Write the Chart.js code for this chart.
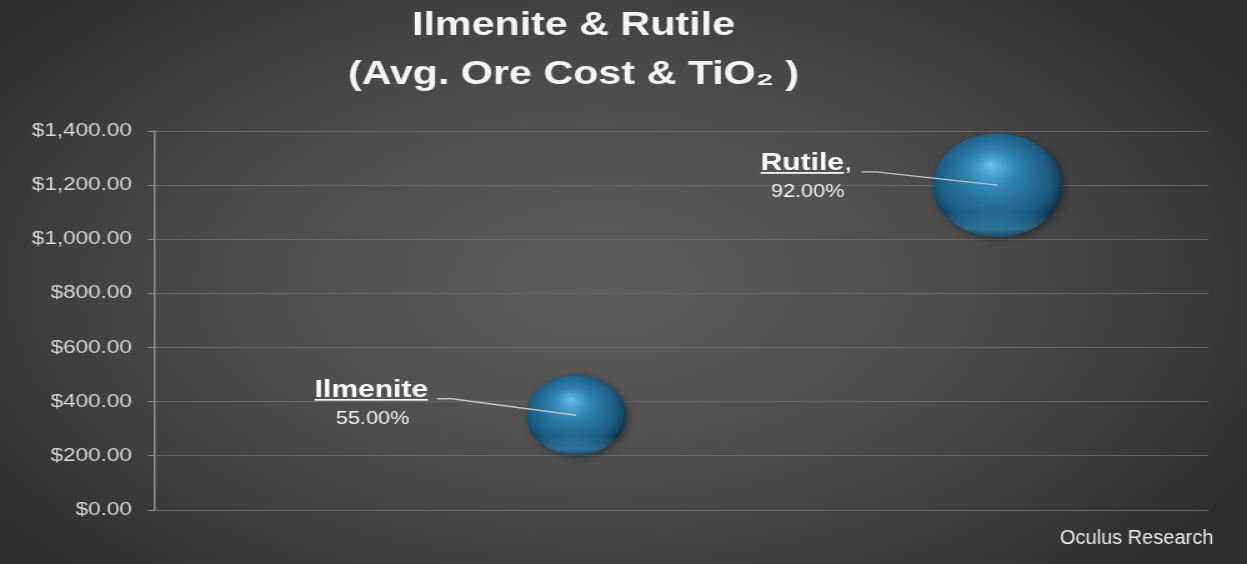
<!DOCTYPE html>
<html>
<head>
<meta charset="utf-8">
<title>Ilmenite &amp; Rutile</title>
<script src="https://cdn.jsdelivr.net/npm/chart.js@4.4.1/dist/chart.umd.min.js"></script>
<style>
  html, body {
    margin: 0;
    padding: 0;
    width: 1247px;
    height: 564px;
    overflow: hidden;
    background: radial-gradient(ellipse 60% 72% at 48% 50%, #5d5d5d 0%, #535353 35%, #414141 70%, #2e2e2e 100%);
  }
  #chart {
    display: block;
    transform-origin: 0 0;
  }
</style>
</head>
<body>
<canvas id="chart" width="998" height="564"></canvas>
<script>
const titleLines = ["Ilmenite & Rutile", "(Avg. Ore Cost & TiO₂ )"];
const series = ["Ilmenite", "Rutile"];
const xPositions = [1, 2];
const avgOreCost = [350, 1200];
const tio2Content = [55, 92];
const labelSeparators = ["", ","];
const yTicks = { min: 0, max: 1400, step: 200 };
const credit = "Oculus Research";

(() => {
  const canvas = document.getElementById("chart");
  // the chart is laid out narrow and widened to the page width
  const STRETCH = 1247 / canvas.width;
  canvas.style.transform = `scaleX(${STRETCH})`;

  const FONT = '"Liberation Sans", Arial, sans-serif';
  const BUBBLE_SCALE = 5.4;
  const TITLE_SHIFT = 24.5;
  // label block centre (dx) and name baseline (dy) relative to each bubble
  const labelOffsets = [[-164, -18.5], [-153, -15.3]];

  Chart.defaults.font.family = FONT;

  function sphereFill(context) {
    const { chart, raw } = context;
    if (!raw || !chart.chartArea || !chart.scales.x) return "#1f6d96";
    const x = chart.scales.x.getPixelForValue(raw.x);
    const y = chart.scales.y.getPixelForValue(raw.y);
    const r = raw.r;
    const g = chart.ctx.createRadialGradient(x - 0.1 * r, y - 0.4 * r, 0, x - 0.06 * r, y - 0.1 * r, 1.1 * r);
    g.addColorStop(0, "#6fc2e8");
    g.addColorStop(0.12, "#52a8d3");
    g.addColorStop(0.32, "#3187b5");
    g.addColorStop(0.55, "#25719b");
    g.addColorStop(0.78, "#1d5e84");
    g.addColorStop(0.92, "#154664");
    g.addColorStop(1, "#0d3048");
    return g;
  }

  const sphereShadow = {
    id: "sphereShadow",
    beforeDatasetsDraw(chart) {
      const ctx = chart.ctx;
      ctx.save();
      ctx.shadowColor = "rgba(0, 0, 0, 0.35)";
      ctx.shadowBlur = 6;
      ctx.shadowOffsetX = 2;
      ctx.shadowOffsetY = 2;
    },
    afterDatasetsDraw(chart) {
      const ctx = chart.ctx;
      ctx.restore();
      // soft reflected light along the lower rim
      chart.data.datasets.forEach((ds, i) => {
        const el = chart.getDatasetMeta(i).data[0];
        const r = el.options.radius;
        const g = ctx.createLinearGradient(0, el.y - r, 0, el.y + r);
        g.addColorStop(0, "rgba(70, 160, 210, 0)");
        g.addColorStop(0.76, "rgba(70, 160, 210, 0)");
        g.addColorStop(0.92, "rgba(80, 170, 215, 0.42)");
        g.addColorStop(1, "rgba(60, 140, 185, 0.3)");
        ctx.save();
        ctx.beginPath();
        ctx.arc(el.x, el.y, r, 0, Math.PI * 2);
        ctx.fillStyle = g;
        ctx.fill();
        ctx.restore();
      });
    },
  };

  // text drawn with its own horizontal scale instead of the page stretch
  function drawScaled(ctx, text, x, y, font, align, widthScale) {
    ctx.save();
    ctx.translate(x, y);
    ctx.scale(widthScale / STRETCH, 1);
    ctx.font = font;
    ctx.textAlign = align;
    ctx.textBaseline = "alphabetic";
    ctx.fillText(text, 0, 0);
    ctx.restore();
  }

  const bubbleLabels = {
    id: "bubbleLabels",
    afterDatasetsDraw(chart) {
      const ctx = chart.ctx;
      chart.data.datasets.forEach((ds, i) => {
        const el = chart.getDatasetMeta(i).data[0];
        const [dx, dy] = labelOffsets[i];
        const cx = el.x + dx;
        const base = el.y + dy;

        ctx.save();
        ctx.font = `bold 24px ${FONT}`;
        const nameW = ctx.measureText(series[i]).width;
        ctx.font = `24px ${FONT}`;
        const sepW = ctx.measureText(labelSeparators[i]).width;
        const left = cx - (nameW + sepW) / 2;
        const right = left + nameW + sepW;

        ctx.fillStyle = "#ffffff";
        ctx.textBaseline = "alphabetic";
        ctx.textAlign = "left";
        ctx.font = `bold 24px ${FONT}`;
        ctx.fillText(series[i], left, base);
        ctx.font = `24px ${FONT}`;
        ctx.fillText(labelSeparators[i], left + nameW, base);
        ctx.fillRect(left, base + 2.2, nameW, 1.7);

        ctx.fillStyle = "#f0f0f0";
        drawScaled(ctx, tio2Content[i].toFixed(2) + "%", cx + 1, base + 27, `19px ${FONT}`, "center", 1.14);

        ctx.strokeStyle = "#c4c4c4";
        ctx.lineWidth = 1.3;
        ctx.beginPath();
        ctx.moveTo(right + 7, base + 2);
        ctx.lineTo(right + 19, base + 2);
        ctx.lineTo(el.x, el.y);
        ctx.stroke();
        ctx.restore();
      });
    },
    afterDraw(chart) {
      const ctx = chart.ctx;
      ctx.save();
      ctx.fillStyle = "#ededed";
      drawScaled(ctx, credit, 848.3, 544.3, `20px ${FONT}`, "left", 1);
      ctx.restore();
    },
  };

  const titleShift = {
    id: "titleShift",
    afterLayout(chart) {
      const t = chart.titleBlock;
      if (t) {
        t.left -= TITLE_SHIFT;
        t.right -= TITLE_SHIFT;
      }
    },
  };

  const money = (v) => "$" + v.toLocaleString("en-US", { minimumFractionDigits: 2, maximumFractionDigits: 2 });

  new Chart(canvas, {
    type: "bubble",
    data: {
      datasets: series.map((name, i) => ({
        label: name,
        data: [{ x: xPositions[i], y: avgOreCost[i], r: BUBBLE_SCALE * Math.sqrt(tio2Content[i]) }],
        backgroundColor: sphereFill,
        borderWidth: 0,
      })),
    },
    options: {
      responsive: false,
      animation: false,
      events: [],
      layout: { autoPadding: false, padding: { left: 0, right: 31, top: 0, bottom: 54 } },
      plugins: {
        legend: { display: false },
        tooltip: { enabled: false },
        title: {
          display: true,
          text: titleLines,
          color: "#f4f4f4",
          font: { family: FONT, size: 33, weight: "bold", lineHeight: 1.49 },
          padding: { top: 1.5, bottom: 31.2 },
        },
      },
      scales: {
        x: { type: "linear", min: 0, max: 2.5, display: false },
        y: {
          min: yTicks.min,
          max: yTicks.max,
          ticks: {
            stepSize: yTicks.step,
            callback: money,
            color: "#d9d9d9",
            font: { size: 18 },
            padding: 13,
          },
          grid: { color: "#666666", lineWidth: 1, tickLength: 5.5, tickColor: "#8c8c8c" },
          border: { color: "#8c8c8c", width: 1.5 },
          afterFit(scale) {
            scale.width = 124;
          },
        },
      },
    },
    plugins: [sphereShadow, bubbleLabels, titleShift],
  });
})();
</script>
</body>
</html>
